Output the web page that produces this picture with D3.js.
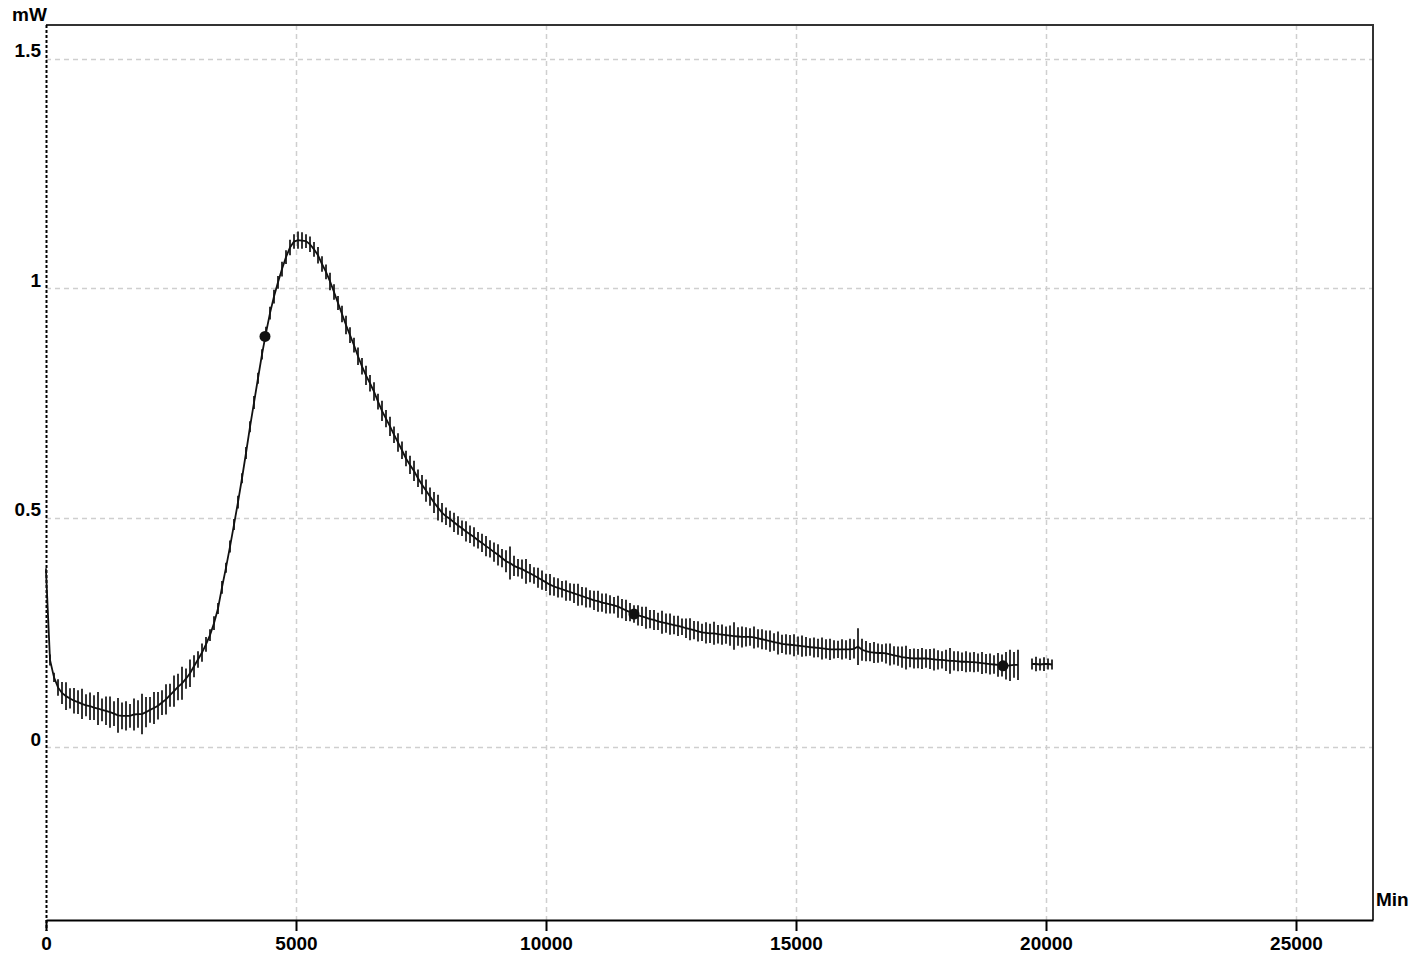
<!DOCTYPE html>
<html>
<head>
<meta charset="utf-8">
<script src="https://cdn.jsdelivr.net/npm/d3@7"></script>
<style>
  body { margin: 0; background: #fff; }
  svg text { font-family: "Liberation Sans", Arial, sans-serif; font-weight: bold; font-size: 19px; fill: #000; }
</style>
</head>
<body>
<div id="graph"></div>
<script>
// heat flow curve (mW vs minutes) with spread bars at each sample
const MAX_WIDTH = 1411, MAX_HEIGHT = 955;
const margin = {top: 25, right: 38, bottom: 35, left: 46};
let width = MAX_WIDTH - margin.left - margin.right,
    height = MAX_HEIGHT - margin.top - margin.bottom;

// tick values + labels
const xTicks = [0, 5000, 10000, 15000, 20000, 25000];
const xTickLabels = ["0", "5000", "10000", "15000", "20000", "25000"];
const yTicks = [0, 0.5, 1, 1.5];
const yTickLabels = ["0", "0.5", "1", "1.5"];

// sample times (min)
const minutes = [
  0, 80, 160, 240, 320, 400, 480, 560, 640, 720,
  800, 880, 960, 1040, 1120, 1200, 1280, 1360, 1440, 1520,
  1600, 1680, 1760, 1840, 1920, 2000, 2080, 2160, 2240, 2320,
  2400, 2480, 2560, 2640, 2720, 2800, 2880, 2960, 3040, 3120,
  3200, 3280, 3360, 3440, 3520, 3600, 3680, 3760, 3840, 3920,
  4000, 4080, 4160, 4240, 4320, 4400, 4480, 4560, 4640, 4720,
  4800, 4880, 4960, 5040, 5120, 5200, 5280, 5360, 5440, 5520,
  5600, 5680, 5760, 5840, 5920, 6000, 6080, 6160, 6240, 6320,
  6400, 6480, 6560, 6640, 6720, 6800, 6880, 6960, 7040, 7120,
  7200, 7280, 7360, 7440, 7520, 7600, 7680, 7760, 7840, 7920,
  8000, 8080, 8160, 8240, 8320, 8400, 8480, 8560, 8640, 8720,
  8800, 8880, 8960, 9040, 9120, 9200, 9280, 9360, 9440, 9520,
  9600, 9680, 9760, 9840, 9920, 10000, 10080, 10160, 10240, 10320,
  10400, 10480, 10560, 10640, 10720, 10800, 10880, 10960, 11040, 11120,
  11200, 11280, 11360, 11440, 11520, 11600, 11680, 11760, 11840, 11920,
  12000, 12080, 12160, 12240, 12320, 12400, 12480, 12560, 12640, 12720,
  12800, 12880, 12960, 13040, 13120, 13200, 13280, 13360, 13440, 13520,
  13600, 13680, 13760, 13840, 13920, 14000, 14080, 14160, 14240, 14320,
  14400, 14480, 14560, 14640, 14720, 14800, 14880, 14960, 15040, 15120,
  15200, 15280, 15360, 15440, 15520, 15600, 15680, 15760, 15840, 15920,
  16000, 16080, 16160, 16240, 16320, 16400, 16480, 16560, 16640, 16720,
  16800, 16880, 16960, 17040, 17120, 17200, 17280, 17360, 17440, 17520,
  17600, 17680, 17760, 17840, 17920, 18000, 18080, 18160, 18240, 18320,
  18400, 18480, 18560, 18640, 18720, 18800, 18880, 18960, 19040, 19120,
  19200, 19280, 19360, 19440,
  19720, 19800, 19880, 19960, 20040, 20120
];

// mean heat flow (mW)
const power = [
  0.385, 0.190, 0.152, 0.130, 0.118, 0.111, 0.106, 0.101, 0.098, 0.094,
  0.091, 0.089, 0.086, 0.084, 0.081, 0.079, 0.076, 0.073, 0.069, 0.068,
  0.068, 0.068, 0.071, 0.072, 0.072, 0.076, 0.081, 0.085, 0.090, 0.097,
  0.104, 0.113, 0.122, 0.131, 0.139, 0.149, 0.161, 0.176, 0.191, 0.206,
  0.224, 0.244, 0.270, 0.302, 0.348, 0.391, 0.437, 0.485, 0.534, 0.586,
  0.641, 0.698, 0.751, 0.804, 0.856, 0.903, 0.946, 0.982, 1.013, 1.042,
  1.068, 1.089, 1.102, 1.105, 1.104, 1.103, 1.096, 1.085, 1.072, 1.053,
  1.036, 1.015, 0.992, 0.968, 0.944, 0.920, 0.898, 0.876, 0.852, 0.830,
  0.810, 0.793, 0.775, 0.753, 0.733, 0.716, 0.699, 0.681, 0.664, 0.647,
  0.629, 0.615, 0.602, 0.586, 0.572, 0.559, 0.546, 0.533, 0.522, 0.511,
  0.503, 0.497, 0.490, 0.483, 0.477, 0.470, 0.464, 0.458, 0.451, 0.445,
  0.438, 0.432, 0.425, 0.419, 0.412, 0.405, 0.401, 0.395, 0.391, 0.388,
  0.383, 0.379, 0.374, 0.369, 0.364, 0.359, 0.354, 0.350, 0.347, 0.344,
  0.341, 0.338, 0.335, 0.332, 0.329, 0.326, 0.323, 0.320, 0.318, 0.315,
  0.313, 0.311, 0.309, 0.306, 0.302, 0.298, 0.294, 0.290, 0.287, 0.285,
  0.282, 0.279, 0.277, 0.274, 0.272, 0.270, 0.268, 0.266, 0.264, 0.262,
  0.259, 0.257, 0.255, 0.252, 0.250, 0.249, 0.248, 0.248, 0.246, 0.245,
  0.244, 0.243, 0.242, 0.241, 0.240, 0.240, 0.240, 0.239, 0.237, 0.235,
  0.233, 0.231, 0.229, 0.227, 0.225, 0.224, 0.223, 0.222, 0.221, 0.220,
  0.219, 0.218, 0.217, 0.216, 0.215, 0.214, 0.213, 0.213, 0.213, 0.213,
  0.213, 0.213, 0.214, 0.219, 0.212, 0.209, 0.207, 0.206, 0.205, 0.205,
  0.204, 0.202, 0.200, 0.198, 0.196, 0.195, 0.194, 0.193, 0.193, 0.193,
  0.193, 0.192, 0.191, 0.190, 0.190, 0.189, 0.188, 0.188, 0.187, 0.186,
  0.186, 0.185, 0.185, 0.184, 0.183, 0.182, 0.181, 0.180, 0.179, 0.178,
  0.177, 0.178, 0.179, 0.179,
  0.181, 0.181, 0.180, 0.181, 0.181, 0.180
];

// half height of the bar at each sample (mW)
const spread = [
  0.005, 0.012, 0.010, 0.018, 0.024, 0.030, 0.022, 0.028, 0.026, 0.033,
  0.024, 0.030, 0.027, 0.036, 0.025, 0.031, 0.034, 0.027, 0.038, 0.029,
  0.032, 0.026, 0.035, 0.030, 0.044, 0.033, 0.028, 0.035, 0.030, 0.027,
  0.033, 0.025, 0.034, 0.029, 0.036, 0.022, 0.030, 0.024, 0.018, 0.020,
  0.016, 0.013, 0.015, 0.012, 0.014, 0.011, 0.013, 0.012, 0.014, 0.011,
  0.013, 0.012, 0.014, 0.012, 0.011, 0.013, 0.014, 0.015, 0.014, 0.016,
  0.015, 0.017, 0.016, 0.019, 0.018, 0.015, 0.017, 0.016, 0.018, 0.017,
  0.016, 0.019, 0.017, 0.015, 0.018, 0.020, 0.017, 0.016, 0.019, 0.018,
  0.021, 0.018, 0.020, 0.017, 0.022, 0.019, 0.021, 0.018, 0.020, 0.019,
  0.017, 0.020, 0.022, 0.019, 0.021, 0.024, 0.020, 0.023, 0.028, 0.021,
  0.019, 0.018, 0.021, 0.020, 0.017, 0.022, 0.019, 0.021, 0.018, 0.020,
  0.022, 0.019, 0.021, 0.023, 0.020, 0.024, 0.036, 0.022, 0.019, 0.021,
  0.027, 0.020, 0.018, 0.022, 0.021, 0.019, 0.023, 0.020, 0.021, 0.018,
  0.022, 0.019, 0.021, 0.024, 0.020, 0.022, 0.019, 0.021, 0.023, 0.020,
  0.022, 0.020, 0.018, 0.024, 0.021, 0.023, 0.020, 0.019, 0.022, 0.021,
  0.024, 0.020, 0.022, 0.019, 0.025, 0.021, 0.023, 0.020, 0.022, 0.018,
  0.021, 0.024, 0.020, 0.022, 0.019, 0.023, 0.021, 0.025, 0.020, 0.022,
  0.019, 0.022, 0.030, 0.020, 0.023, 0.021, 0.019, 0.024, 0.020, 0.022,
  0.021, 0.023, 0.019, 0.025, 0.020, 0.022, 0.021, 0.024, 0.020, 0.023,
  0.021, 0.019, 0.022, 0.020, 0.024, 0.021, 0.023, 0.020, 0.019, 0.022,
  0.020, 0.023, 0.021, 0.040, 0.024, 0.022, 0.020, 0.023, 0.021, 0.019,
  0.022, 0.024, 0.020, 0.021, 0.023, 0.026, 0.020, 0.022, 0.021, 0.023,
  0.020, 0.022, 0.024, 0.021, 0.019, 0.023, 0.028, 0.021, 0.022, 0.020,
  0.023, 0.021, 0.022, 0.020, 0.024, 0.021, 0.023, 0.020, 0.026, 0.024,
  0.030, 0.034, 0.028, 0.033,
  0.012, 0.016, 0.013, 0.015, 0.012, 0.011
];

// the three big dots on the curve
const markerMinutes = [4380, 11760, 19140];
const markerPower = [0.895, 0.290, 0.177];

let svg = d3.select("#graph")
    .append("svg")
    .attr("width", MAX_WIDTH)
    .attr("height", MAX_HEIGHT)
    .append("g")
    .attr("transform", "translate(" + margin.left + "," + margin.top + ")");

let x = d3.scaleLinear()
    .domain([0, 26540])
    .range([0, width]);

let y = d3.scaleLinear()
    .domain([-0.377, 1.574])
    .range([height, 0]);

// gridlines (light dashed)
svg.append("g").selectAll("line")
    .data(yTicks)
    .enter()
    .append("line")
    .attr("x1", 0)
    .attr("x2", width)
    .attr("y1", d => Math.round(y(d)) + 0.5)
    .attr("y2", d => Math.round(y(d)) + 0.5)
    .attr("stroke", "#cfcfcf")
    .attr("stroke-width", 1.5)
    .attr("stroke-dasharray", "5,4");

svg.append("g").selectAll("line")
    .data(xTicks.slice(1))
    .enter()
    .append("line")
    .attr("x1", d => Math.round(x(d)) + 0.5)
    .attr("x2", d => Math.round(x(d)) + 0.5)
    .attr("y1", 0)
    .attr("y2", height)
    .attr("stroke", "#cfcfcf")
    .attr("stroke-width", 1.5)
    .attr("stroke-dasharray", "5,4");

// frame: top + right
svg.append("path")
    .attr("d", `M0,0H${width}V${height}`)
    .attr("fill", "none")
    .attr("stroke", "#333")
    .attr("stroke-width", 2);

// x axis
let xAxis = svg.append("g")
    .attr("transform", `translate(0, ${height})`)
    .call(d3.axisBottom(x)
        .tickValues(xTicks)
        .tickFormat((d, i) => xTickLabels[i])
        .tickSize(11)
        .tickSizeOuter(0)
        .tickPadding(6));
xAxis.attr("font-size", null).attr("font-family", null);
xAxis.select(".domain").attr("stroke", "#000").attr("stroke-width", 2);
xAxis.selectAll(".tick line").attr("stroke", "#000").attr("stroke-width", 2);

// y axis: labels only, sitting just above the gridline
let yAxis = svg.append("g")
    .call(d3.axisLeft(y)
        .tickValues(yTicks)
        .tickFormat((d, i) => yTickLabels[i])
        .tickSize(0)
        .tickPadding(5));
yAxis.attr("font-size", null).attr("font-family", null);
yAxis.select(".domain").remove();
yAxis.selectAll(".tick text").attr("dy", -2);

// left axis drawn as dashed black line
svg.append("line")
    .attr("x1", 0.5).attr("x2", 0.5)
    .attr("y1", 0).attr("y2", height + 11)
    .attr("stroke", "#000")
    .attr("stroke-width", 2)
    .attr("stroke-dasharray", "3,2");

// build samples + split where there is a hole in the record
let samples = minutes.map((t, i) => ({t: t, v: power[i], e: spread[i]}));
let runs = [];
samples.forEach(function(d, i) {
    if (i === 0 || d.t - samples[i - 1].t > 120) runs.push([]);
    runs[runs.length - 1].push(d);
});

let plot = svg.append("g");

// spread bars
plot.selectAll(".bar")
    .data(samples)
    .enter()
    .append("line")
    .attr("class", "bar")
    .attr("x1", d => x(d.t))
    .attr("x2", d => x(d.t))
    .attr("y1", d => y(d.v - d.e))
    .attr("y2", d => y(d.v + d.e))
    .attr("stroke", "#1e1e1e")
    .attr("stroke-width", 1.8);

// mean line
let line = d3.line()
    .x(d => x(d.t))
    .y(d => y(d.v));

plot.selectAll(".mean")
    .data(runs)
    .enter()
    .append("path")
    .attr("class", "mean")
    .attr("d", line)
    .attr("fill", "none")
    .attr("stroke", "#111")
    .attr("stroke-width", 1.8);

// markers
plot.selectAll("circle")
    .data(markerMinutes)
    .enter()
    .append("circle")
    .attr("cx", d => x(d))
    .attr("cy", (d, i) => y(markerPower[i]))
    .attr("r", 5.5)
    .attr("fill", "#111");

// unit labels
svg.append("text")
    .attr("x", 12 - margin.left)
    .attr("y", 21 - margin.top)
    .text("mW");

svg.append("text")
    .attr("x", width + 3)
    .attr("y", height - 14)
    .text("Min");
</script>
</body>
</html>
